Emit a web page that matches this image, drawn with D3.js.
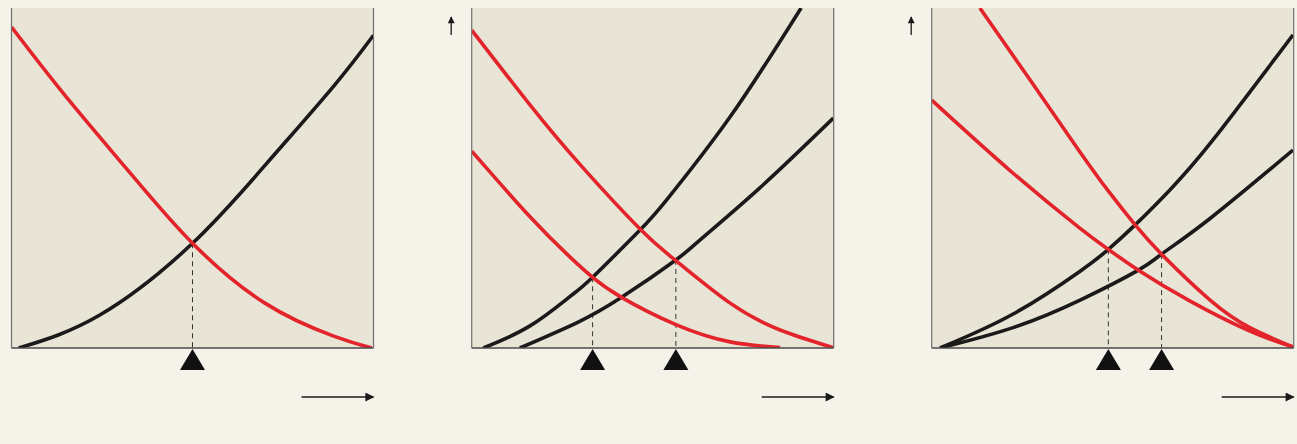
<!DOCTYPE html>
<html>
<head>
<meta charset="utf-8">
<script src="https://cdn.jsdelivr.net/npm/d3@7"></script>
<style>
  html, body { margin: 0; padding: 0; background: #f5f2ea; }
  svg { display: block; }
</style>
</head>
<body>
<svg id="chart" width="1297" height="444"></svg>
<script>
// values, unit scale 0..10 on both axes
const panel1Red = [[0, 9.44], [1.5, 7.4], [3.3, 5.12], [5.0, 3.08], [7.0, 1.32], [8.9, 0.35], [9.95, 0]];
const panel1Black = [[0.2, 0], [2.44, 0.97], [5.0, 3.08], [7.05, 5.43], [8.89, 7.69], [10, 9.2]];

const panel2Red = [
  [[0, 9.35], [1.61, 7.15], [2.99, 5.4], [4.65, 3.5], [5.64, 2.57], [7.14, 1.32], [8.52, 0.53], [9.99, 0.01]],
  [[0, 5.79], [1.61, 3.86], [2.71, 2.68], [3.34, 2.08], [4.14, 1.49], [5.64, 0.69], [7.14, 0.18], [8.52, 0.01]]
];
const panel2Black = [
  [[0.32, 0], [1.61, 0.65], [2.71, 1.51], [3.34, 2.08], [4.65, 3.47], [5.38, 4.35], [7.14, 6.8], [9.1, 10]],
  [[1.33, 0], [2.9, 0.74], [4.14, 1.49], [5.64, 2.59], [6.31, 3.18], [7.96, 4.71], [9.99, 6.76]]
];

const panel3Red = [
  [[1.33, 10], [2.72, 7.88], [4.1, 5.76], [4.92, 4.56], [5.62, 3.62], [6.35, 2.76], [7.69, 1.41], [8.79, 0.6], [9.98, 0.03]],
  [[0, 7.29], [2.25, 5.14], [4.1, 3.52], [4.88, 2.9], [5.71, 2.29], [7.14, 1.38], [8.79, 0.5], [9.98, 0.03]]
];
const panel3Black = [
  [[0.23, 0], [2.25, 1.0], [4.1, 2.26], [4.88, 2.9], [5.62, 3.62], [6.58, 4.65], [7.77, 6.12], [9.98, 9.21]],
  [[0.23, 0], [2.25, 0.6], [4.1, 1.41], [5.71, 2.29], [6.35, 2.76], [7.69, 3.81], [9.98, 5.82]]
];

// equilibrium markers: [x, y of the crossing]
const panel1Marks = [[5.0, 3.08]];
const panel2Marks = [[3.34, 2.08], [5.64, 2.59]];
const panel3Marks = [[4.88, 2.9], [6.35, 2.76]];

const panels = [
  { left: 11.5, red: [panel1Red], black: [panel1Black], marks: panel1Marks, upArrow: false },
  { left: 471.7, red: panel2Red, black: panel2Black, marks: panel2Marks, upArrow: true },
  { left: 931.7, red: panel3Red, black: panel3Black, marks: panel3Marks, upArrow: true }
];

const svg = d3.select('#chart');
const plotW = 362, plotTop = 8, plotBottom = 348;
const plotH = plotBottom - plotTop;

const defs = svg.append('defs');
defs.append('clipPath').attr('id', 'clip')
  .append('rect').attr('x', 0).attr('y', 0).attr('width', plotW).attr('height', plotH);
defs.append('marker')
  .attr('id', 'head')
  .attr('viewBox', '0 0 10 10')
  .attr('refX', 9).attr('refY', 5)
  .attr('markerWidth', 11).attr('markerHeight', 9)
  .attr('markerUnits', 'userSpaceOnUse')
  .attr('orient', 'auto')
  .append('path')
  .attr('d', 'M0,0 L10,5 L0,10 Z')
  .attr('fill', '#1a1a1a');
defs.append('marker')
  .attr('id', 'headUp')
  .attr('viewBox', '0 0 10 10')
  .attr('refX', 9).attr('refY', 5)
  .attr('markerWidth', 9).attr('markerHeight', 7)
  .attr('markerUnits', 'userSpaceOnUse')
  .attr('orient', 'auto')
  .append('path')
  .attr('d', 'M0,0 L10,5 L0,10 Z')
  .attr('fill', '#1a1a1a');

panels.forEach(p => {
  const x = d3.scaleLinear().domain([0, 10]).range([0, plotW]);
  const y = d3.scaleLinear().domain([0, 10]).range([plotH, 0]);
  const g = svg.append('g').attr('transform', `translate(${p.left},${plotTop})`);

  g.append('rect')
    .attr('width', plotW)
    .attr('height', plotH)
    .attr('fill', '#e8e4d6');

  const line = d3.line()
    .x(d => x(d[0]))
    .y(d => y(d[1]))
    .curve(d3.curveNatural);

  const curves = g.append('g').attr('clip-path', 'url(#clip)');

  // dashed drop lines
  curves.selectAll('.drop')
    .data(p.marks)
    .enter()
    .append('line')
    .attr('x1', d => x(d[0]))
    .attr('x2', d => x(d[0]))
    .attr('y1', d => y(d[1]))
    .attr('y2', y(0))
    .attr('stroke', '#333')
    .attr('stroke-width', 1)
    .attr('stroke-dasharray', '5,4');

  p.black.forEach(s => {
    curves.append('path').datum(s)
      .attr('fill', 'none')
      .attr('stroke', '#1a1a1a')
      .attr('stroke-width', 3.6)
      .attr('d', line);
  });
  p.red.forEach(s => {
    curves.append('path').datum(s)
      .attr('fill', 'none')
      .attr('stroke', '#e3242b')
      .attr('stroke-width', 3.6)
      .attr('d', line);
  });

  // frame: thin sides, darker base
  g.append('line').attr('x1', 0).attr('x2', 0).attr('y1', 0).attr('y2', y(0))
    .attr('stroke', '#6f6f6f').attr('stroke-width', 1.2);
  g.append('line').attr('x1', plotW).attr('x2', plotW).attr('y1', 0).attr('y2', y(0))
    .attr('stroke', '#6f6f6f').attr('stroke-width', 1.2);
  g.append('line').attr('x1', 0).attr('x2', plotW).attr('y1', y(0)).attr('y2', y(0))
    .attr('stroke', '#4a4a4a').attr('stroke-width', 1.6);

  // triangles under the axis
  g.selectAll('.tri')
    .data(p.marks)
    .enter()
    .append('path')
    .attr('d', d => `M${x(d[0])},${y(0) + 1} L${x(d[0]) + 12.5},${y(0) + 22} L${x(d[0]) - 12.5},${y(0) + 22} Z`)
    .attr('fill', '#111');

  // horizontal arrow
  g.append('line')
    .attr('x1', plotW - 72).attr('x2', plotW)
    .attr('y1', 389).attr('y2', 389)
    .attr('stroke', '#1a1a1a').attr('stroke-width', 1.3)
    .attr('marker-end', 'url(#head)');

  if (p.upArrow) {
    g.append('line')
      .attr('x1', -20.5).attr('x2', -20.5)
      .attr('y1', 27).attr('y2', 9)
      .attr('stroke', '#1a1a1a').attr('stroke-width', 1.3)
      .attr('marker-end', 'url(#headUp)');
  }
});
</script>
</body>
</html>
